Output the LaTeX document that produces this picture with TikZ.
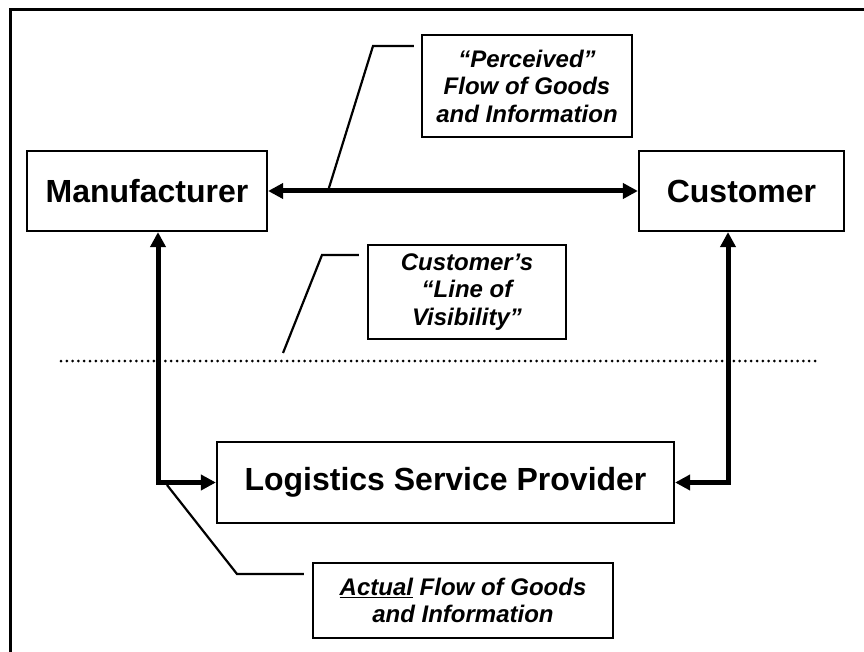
\documentclass[tikz,border=0pt]{standalone}
\usepackage{fontspec}
\setmainfont{Liberation Sans}
\usetikzlibrary{arrows.meta}

\tikzset{
  entity/.style={draw, line width=2.2pt, fill=white, inner sep=0pt,
    font=\fontsize{32}{36}\selectfont\bfseries},
  note/.style={draw, line width=2.2pt, fill=white, inner sep=0pt, align=center,
    font=\fontsize{24}{27.5}\selectfont\bfseries\itshape},
  flow/.style={line width=5pt, {Triangle[length=15pt,width=15pt]}-{Triangle[length=15pt,width=15pt]}},
  leader/.style={line width=2.2pt},
  visline/.style={line width=3pt, line cap=round, dash pattern=on 0pt off 5.8pt},
  frameline/.style={line width=3pt}
}

\begin{document}
\begin{tikzpicture}[x=1pt, y=-1pt]
  \clip (0,0) rectangle (864,652);
  \fill[white] (0,0) rectangle (864,652);

  % outer frame (only the left and top edges fall inside the page)
  \draw[frameline] (10,700) -- (10,10) -- (900,10);

  % main parties
  \node[entity, minimum width=240pt, minimum height=80pt] (mfr) at (147,191) {Manufacturer};
  \node[entity, minimum width=205pt, minimum height=80pt] (cus) at (741.5,191) {Customer};
  \node[entity, minimum width=457pt, minimum height=81pt] (lsp) at (445.5,482.5) {Logistics Service Provider};

  % explanatory notes
  \node[note, minimum width=210pt, minimum height=102pt] (perc) at (527,86)
    {“Perceived”\\Flow of Goods\\and Information};
  \node[note, minimum width=198pt, minimum height=94pt] (vis) at (467,292)
    {Customer’s\\“Line of\\Visibility”};
  \node[note, minimum width=300pt, minimum height=75pt] (act) at (463,600.5)
    {\underline{Actual} Flow of Goods\\and Information};

  % line of visibility
  \coordinate (visA) at (61,361);
  \coordinate (visB) at (820,361);
  \draw[visline] (visA) -- (visB);

  % junctions of the actual flow
  \coordinate (jL) at (158,482.5);
  \coordinate (jR) at (728,482.5);

  % flows
  \draw[flow] (mfr) -- (cus);
  \draw[flow] (mfr.south -| jL) |- (lsp.west);
  \draw[flow] (cus.south -| jR) |- (lsp.east);

  % callout leaders
  \coordinate (pA) at (328,191);
  \coordinate (pB) at (373,46);
  \draw[leader] (pA) -- (pB) -- ([xshift=-7pt]perc.west |- pB);

  \coordinate (vA) at (283,353);
  \coordinate (vB) at (322,255);
  \draw[leader] (vA) -- (vB) -- ([xshift=-8pt]vis.west |- vB);

  \coordinate (aA) at (167,485);
  \coordinate (aB) at (237,574);
  \draw[leader] (aA) -- (aB) -- ([xshift=-8pt]act.west |- aB);
\end{tikzpicture}
\end{document}
